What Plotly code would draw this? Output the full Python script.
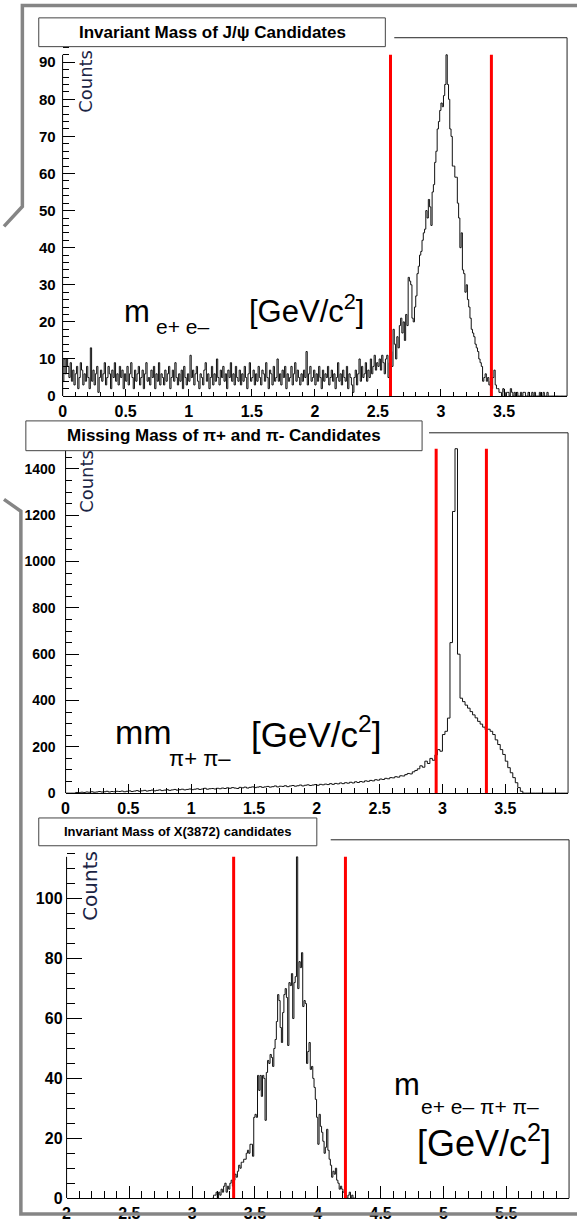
import plotly.graph_objects as go

W, H = 577, 1229

# ---------------- data ----------------
# Panel 1: invariant mass of J/psi candidates, 0.01 GeV bins from 0.00 to 4.00
jpsi_lo, jpsi_w = 0.0, 0.01
jpsi_counts = [
    4, 10, 6, 10, 8, 5, 9, 4, 7, 3,
    6, 8, 2, 5, 9, 7, 3, 6, 4, 8,
    5, 2, 13, 4, 7, 3, 6, 8, 1, 5,
    7, 4, 6, 9, 3, 5, 8, 6, 2, 7,
    5, 9, 4, 6, 3, 8, 5, 7, 2, 6,
    4, 8, 3, 6, 9, 5, 2, 7, 4, 6,
    8, 3, 5, 7, 2, 6, 9, 4, 5, 3,
    7, 5, 8, 2, 6, 4, 9, 3, 6, 5,
    3, 7, 4, 6, 8, 2, 5, 7, 4, 9,
    5, 3, 6, 4, 7, 2, 8, 5, 3, 6,
    4, 11, 5, 7, 3, 6, 8, 4, 2, 6,
    5, 3, 7, 9, 4, 6, 2, 5, 8, 3,
    6, 4, 10, 5, 3, 7, 5, 8, 4, 6,
    2, 7, 5, 9, 4, 6, 3, 8, 5, 4,
    7, 3, 6, 4, 8, 5, 2, 6, 9, 4,
    5, 7, 3, 6, 4, 8, 5, 3, 7, 6,
    4, 9, 5, 2, 7, 6, 3, 8, 4, 5,
    10, 4, 6, 3, 7, 5, 8, 2, 6, 4,
    5, 8, 3, 6, 9, 4, 7, 5, 3, 6,
    4, 7, 5, 12, 3, 6, 8, 4, 5, 7,
    3, 6, 4, 8, 5, 2, 7, 4, 6, 5,
    8, 3, 5, 7, 4, 6, 2, 5, 9, 4,
    6, 3, 7, 5, 4, 8, 2, 6, 5, 3,
    1, 5, 7, 3, 6, 10, 4, 8, 5, 6,
    9, 4, 7, 5, 10, 6, 8, 11, 7, 9,
    8, 10, 7, 11, 9, 6, 10, 11, 5, 9,
    12, 8, 18, 14, 10, 16, 13, 19, 21, 17,
    20, 15, 22, 19, 32, 31, 30, 21, 20, 24,
    27, 33, 35, 38, 39, 42, 44, 45, 50, 48,
    53, 51, 46, 55, 57, 63, 66, 72, 74, 77,
    79, 78, 81, 84, 92, 84, 80, 72, 70, 62,
    62, 59, 59, 52, 48, 40, 44, 34, 33, 28,
    30, 26, 24, 21, 18, 17, 16, 14, 13, 12,
    10, 9, 8, 4, 5, 6, 4, 5, 3, 4,
    2, 5, 7, 3, 2, 2, 1, 1, 0, 2,
    1, 0, 1, 1, 0, 2, 1, 0, 1, 0,
    1, 0, 0, 1, 0, 1, 1, 0, 0, 1,
    0, 0, 1, 0, 1, 0, 0, 0, 1, 0,
    0, 1, 0, 0, 1, 0, 0, 0, 0, 0,
    0, 0, 0, 0, 0, 0, 0, 0, 0, 0,
]
jpsi_cuts = [2.6, 3.4]

# Panel 2: missing mass of pi+ pi-, 0.02 GeV bins from 0.00 to 4.00
mm_lo, mm_w = 0.0, 0.02
mm_counts = [
    0, 0, 0, 0, 3, 2, 4, 3, 5, 4,
    6, 4, 5, 7, 5, 6, 8, 5, 7, 6,
    8, 7, 9, 6, 8, 10, 7, 9, 11, 8,
    10, 12, 9, 11, 13, 10, 12, 14, 11, 13,
    15, 12, 14, 16, 13, 15, 17, 14, 16, 18,
    15, 17, 19, 16, 18, 21, 17, 19, 20, 18,
    21, 19, 22, 20, 23, 21, 24, 22, 20, 25,
    23, 26, 22, 25, 27, 24, 26, 28, 25, 27,
    29, 26, 28, 31, 27, 30, 29, 32, 28, 31,
    33, 30, 32, 35, 31, 34, 36, 33, 35, 37,
    34, 38, 36, 39, 37, 41, 38, 42, 40, 44,
    41, 45, 43, 47, 44, 49, 46, 50, 48, 53,
    51, 55, 53, 58, 56, 61, 59, 64, 62, 67,
    66, 71, 69, 75, 74, 80, 85, 83, 92, 98,
    105, 118, 112, 138, 128, 150, 142, 165, 188, 181,
    253, 267, 324, 650, 1216, 1487, 600, 410, 395, 380,
    367, 352, 338, 325, 310, 298, 285, 274, 276, 267,
    253, 230, 210, 188, 167, 138, 110, 88, 67, 45,
    24, 8, 0, 0, 0, 0, 0, 0, 0, 0,
    0, 0, 0, 0, 0, 0, 0, 0, 0, 0,
]
mm_cuts = [2.95, 3.35]

# Panel 3: invariant mass of X(3872) candidates, 0.01 GeV bins, occupied from 3.16
x_lo, x_w = 3.16, 0.01
x_counts = [
    0, 1, 1, 2, 0, 2, 1, 3, 2, 4,
    5, 2, 4, 3, 5, 6, 4, 6, 8, 7,
    9, 11, 10, 12, 12, 13, 13, 15, 16, 15,
    18, 18, 14, 27, 28, 27, 41, 36, 41, 34,
    41, 40, 26, 42, 46, 45, 48, 47, 44, 50,
    53, 59, 68, 66, 57, 52, 62, 68, 70, 67,
    51, 72, 71, 75, 60, 72, 74, 114, 70, 79,
    77, 82, 64, 66, 65, 45, 49, 52, 43, 44,
    40, 37, 33, 27, 18, 28, 24, 22, 19, 15,
    17, 23, 16, 13, 11, 7, 9, 8, 10, 6,
    5, 3, 4, 3, 2, 2, 1, 0, 1, 2,
    0, 1, 0, 0,
]
x_cuts = [3.33, 4.22]

x_ticks_1 = [0, 0.5, 1, 1.5, 2, 2.5, 3, 3.5]
x_ticks_3 = [2, 2.5, 3, 3.5, 4, 4.5, 5, 5.5]
y_ticks_1 = [0, 10, 20, 30, 40, 50, 60, 70, 80, 90]
y_ticks_2 = [0, 200, 400, 600, 800, 1000, 1200, 1400]
y_ticks_3 = [0, 20, 40, 60, 80, 100]

titles = ["Invariant Mass of J/ψ Candidates",
          "Missing Mass of π+ and π- Candidates",
          "Invariant Mass of X(3872) candidates"]

# ---------------- helpers ----------------
def px(x):
    return x / W


def py(y):
    return 1 - y / H


def fmt(v):
    return ("%g" % v)


def step_xy(lo, w, counts):
    xs = [lo]
    ys = [0]
    for i, c in enumerate(counts):
        xs.append(lo + i * w)
        ys.append(c)
    xs.append(lo + len(counts) * w)
    ys.append(counts[-1])
    xs.append(lo + len(counts) * w)
    ys.append(0)
    return xs, ys


fig = go.Figure()

panels = [
    dict(lo=jpsi_lo, w=jpsi_w, counts=jpsi_counts, cuts=jpsi_cuts, xs="x", ys="y"),
    dict(lo=mm_lo, w=mm_w, counts=mm_counts, cuts=mm_cuts, xs="x2", ys="y2"),
    dict(lo=x_lo, w=x_w, counts=x_counts, cuts=x_cuts, xs="x3", ys="y3"),
]

for p in panels:
    hx, hy = step_xy(p["lo"], p["w"], p["counts"])
    fig.add_trace(go.Scatter(x=hx, y=hy, mode="lines", line_shape="hv",
                             line=dict(color="#111111", width=1),
                             xaxis=p["xs"], yaxis=p["ys"], showlegend=False,
                             hoverinfo="skip"))

FAM = "Liberation Sans, Arial"


def xaxis_style(dom, rng, anchor, tlen, mlen, tickvals, fsize=16):
    return dict(domain=dom, range=rng, anchor=anchor, showgrid=False, zeroline=False,
                showline=True, linecolor="black", linewidth=1,
                ticks="inside", ticklen=tlen, tickwidth=1, tickcolor="black",
                tickmode="array", tickvals=tickvals,
                ticktext=["<b>%s</b>" % fmt(v) for v in tickvals],
                tickfont=dict(family=FAM, size=fsize, color="black", weight=700),
                ticklabelstandoff=1,
                minor=dict(ticks="inside", ticklen=mlen, tickcolor="black", tickwidth=1,
                           dtick=0.1, tick0=0, showgrid=False))


def yaxis_style(dom, rng, anchor, tickvals, mdtick, tlen, mlen, fsize, standoff):
    return dict(domain=dom, range=rng, anchor=anchor, showgrid=False, zeroline=False,
                showline=False, ticks="inside", ticklen=tlen, tickwidth=1, tickcolor="black",
                tickmode="array", tickvals=tickvals,
                ticktext=["<b>%s</b>" % fmt(v) for v in tickvals],
                tickfont=dict(family=FAM, size=fsize, color="black", weight=700),
                ticklabelstandoff=standoff,
                minor=dict(ticks="inside", ticklen=mlen, tickcolor="black", tickwidth=1,
                           dtick=mdtick, tick0=0, showgrid=False))


fig.update_layout(
    xaxis=xaxis_style([px(59), px(567)], [0, 4], "y", 7, 4, x_ticks_1),
    yaxis=yaxis_style([py(399), py(38)], [0, 96.6], "x", y_ticks_1, 2, 12, 6, 15, 6),
    xaxis2=xaxis_style([px(62), px(568)], [0, 4], "y2", 9, 5, x_ticks_1),
    yaxis2=yaxis_style([py(799), py(435)], [0, 1560], "x2", y_ticks_2, 50, 13, 6, 14, 9),
    xaxis3=xaxis_style([px(63), px(569)], [2, 6], "y3", 12, 7, x_ticks_3),
    yaxis3=yaxis_style([py(1207), py(846)], [0, 119.7], "x3", y_ticks_3, 5, 15, 8, 16, 3),
)

shapes = []
annotations = []

# gray callout frames
gray = "#858585"
shapes.append(dict(type="path", xref="paper", yref="paper",
                   path=f"M {px(0)},{py(228)} L {px(18.5)},{py(208)} L {px(18.5)},{py(5.5)} L {px(577)},{py(5.5)}",
                   line=dict(color=gray, width=3.5)))
shapes.append(dict(type="path", xref="paper", yref="paper",
                   path=f"M {px(0)},{py(503)} L {px(17)},{py(515)} L {px(17)},{py(1223)} L {px(577)},{py(1223)}",
                   line=dict(color=gray, width=3.5)))

# frames: top and right lines
frames = [
    dict(xt0=393, xr=567, yt=38, yb=399),
    dict(xt0=428, xr=568, yt=436, yb=799),
    dict(xt0=329, xr=569, yt=846, yb=1207),
]
for f in frames:
    shapes.append(dict(type="line", xref="paper", yref="paper",
                       x0=px(f["xt0"]), x1=px(f["xr"]), y0=py(f["yt"]), y1=py(f["yt"]),
                       line=dict(color="#222", width=1)))
    shapes.append(dict(type="line", xref="paper", yref="paper",
                       x0=px(f["xr"]), x1=px(f["xr"]), y0=py(f["yt"]), y1=py(f["yb"]),
                       line=dict(color="#222", width=1)))

for p in panels:
    xa = p["xs"]
    ya = p["ys"]
    mx = max(p["counts"])
    shapes.append(dict(type="line", xref=f"{xa} domain", yref=ya, x0=0, x1=0, y0=0, y1=mx,
                       line=dict(color="black", width=1)))
    for c in p["cuts"]:
        shapes.append(dict(type="line", xref=xa, yref=ya, x0=c, x1=c, y0=0, y1=mx,
                           line=dict(color="#ff0000", width=3), layer="above"))

# title boxes
boxes = [
    dict(x0=35, x1=384, y0=18, y1=47, size=17),
    dict(x0=22, x1=421, y0=424, y1=454, size=17),
    dict(x0=35, x1=315, y0=824, y1=852, size=13),
]
for b, t in zip(boxes, titles):
    shapes.append(dict(type="rect", xref="paper", yref="paper",
                       x0=px(b["x0"]), x1=px(b["x1"]), y0=py(b["y1"]), y1=py(b["y0"]),
                       fillcolor="white", line=dict(color="#444", width=1), layer="above"))
    annotations.append(dict(text="<b>%s</b>" % t, xref="paper", yref="paper",
                            x=px((b["x0"] + b["x1"]) / 2), y=py((b["y0"] + b["y1"]) / 2),
                            xanchor="center", yanchor="middle", showarrow=False,
                            font=dict(family=FAM, size=b["size"], color="black")))

# "Counts" labels
counts_pos = [(82, 82, 18), (83, 485, 18), (87, 892, 20)]
for (cx, cy, s) in counts_pos:
    annotations.append(dict(text="Counts", xref="paper", yref="paper", x=px(cx), y=py(cy),
                            xanchor="center", yanchor="middle", textangle=-90, showarrow=False,
                            font=dict(family="DejaVu Sans", size=s, color="#1b2444")))


def big(text, left, bottom, size):
    annotations.append(dict(text=text, xref="paper", yref="paper", x=px(left), y=py(bottom),
                            xanchor="left", yanchor="bottom", showarrow=False,
                            font=dict(family=FAM, size=size, color="black")))


# axis-title texts
big("m", 119, 333, 31)
big("e+ e–", 151, 343, 21)
big("[GeV/c<sup>2</sup>]", 245, 333, 31)

big("mm", 110, 759, 34)
big("π+ π–", 164, 779, 22)
big("[GeV/c<sup>2</sup>]", 247, 762, 35)

big("m", 391, 1112, 31)
big("e+ e– π+ π–", 418, 1128, 21)
big("[GeV/c<sup>2</sup>]", 414, 1175, 36)

fig.update_layout(shapes=shapes, annotations=annotations,
                  width=W, height=H, margin=dict(l=0, r=0, t=0, b=0),
                  paper_bgcolor="white", plot_bgcolor="white", showlegend=False)

fig.write_html("out.html")
